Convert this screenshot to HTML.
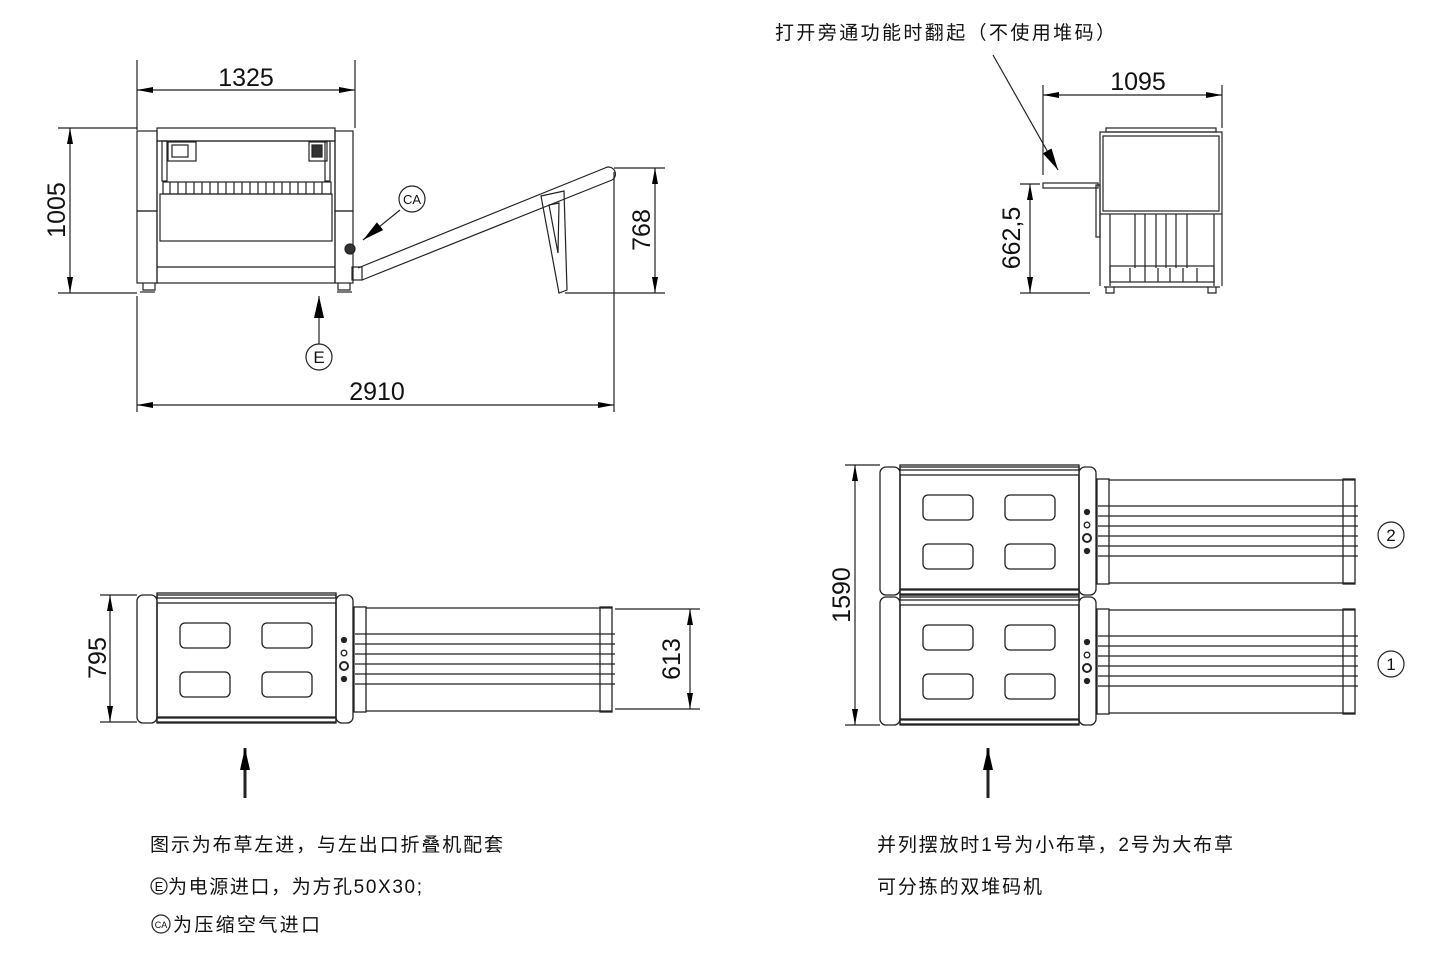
<!DOCTYPE html>
<html><head><meta charset="utf-8"><style>
html,body{margin:0;padding:0;background:#fff;}
svg{display:block;}
text{font-family:"Liberation Sans","Noto Sans CJK SC",sans-serif;fill:#111;}
</style></head><body>
<svg width="1455" height="960" viewBox="0 0 1455 960" xmlns="http://www.w3.org/2000/svg">
<defs>
<marker id="a" viewBox="0 0 16 6" refX="16" refY="3" markerWidth="16" markerHeight="6" markerUnits="userSpaceOnUse" orient="auto-start-reverse"><path d="M0,0L16,3L0,6z" fill="#000"/></marker>
<marker id="b" viewBox="0 0 22 10" refX="22" refY="5" markerWidth="22" markerHeight="10" markerUnits="userSpaceOnUse" orient="auto"><path d="M0,0L22,5L0,10z" fill="#000"/></marker>
<g id="T" fill="none" stroke="#222" stroke-width="1.3">
 <rect x="0" y="2" width="20" height="128" rx="6"/>
 <rect x="20" y="0" width="179" height="5"/>
 <rect x="20" y="125" width="179" height="5"/>
 <rect x="20" y="2" width="179" height="127"/>
 <rect x="20" y="10" width="179" height="114"/>
 <rect x="199" y="2" width="17" height="128" rx="6"/>
 <rect x="43" y="30" width="50" height="25" rx="5"/>
 <rect x="125" y="30" width="50" height="25" rx="5"/>
 <rect x="43" y="79" width="50" height="25" rx="5"/>
 <rect x="125" y="79" width="50" height="25" rx="5"/>
 <circle cx="207" cy="47" r="2.5" fill="#222"/>
 <circle cx="207" cy="60" r="2.8"/>
 <circle cx="207" cy="73" r="4" stroke-width="2"/>
 <circle cx="207" cy="86" r="2.5" fill="#222"/>
 <rect x="217" y="14" width="12" height="105"/>
 <line x1="229" y1="15" x2="475" y2="15"/>
 <line x1="229" y1="118" x2="475" y2="118"/>
 <line x1="218" y1="41" x2="478" y2="41"/><line x1="218" y1="51" x2="478" y2="51"/>
 <line x1="218" y1="61" x2="478" y2="61"/><line x1="218" y1="71" x2="478" y2="71"/>
 <line x1="218" y1="81" x2="478" y2="81"/><line x1="218" y1="91" x2="478" y2="91"/>
 <rect x="463" y="14" width="12" height="105"/>
</g>
</defs>

<g stroke="#222" stroke-width="1.2" fill="none">
<line x1="137" y1="60" x2="137" y2="130"/><line x1="355" y1="60" x2="355" y2="128"/>
<line x1="137" y1="90" x2="355" y2="90" marker-start="url(#a)" marker-end="url(#a)"/>
<line x1="58" y1="128" x2="137" y2="128"/><line x1="58" y1="293" x2="137" y2="293"/>
<line x1="70" y1="128" x2="70" y2="293" marker-start="url(#a)" marker-end="url(#a)"/>
<rect x="137" y="131" width="20" height="80"/>
<rect x="335" y="131" width="18" height="80"/>
<rect x="157" y="128" width="178" height="13"/>
<rect x="157" y="141" width="178" height="142"/>
<rect x="162" y="141" width="5" height="40"/><rect x="325" y="141" width="5" height="40"/>
<rect x="168" y="142" width="28" height="19"/><rect x="172" y="145" width="16" height="12"/>
<rect x="309" y="142" width="18" height="19"/><rect x="312" y="145" width="10" height="12" fill="#333"/>
<rect x="163" y="182" width="168" height="12"/>
<path d="M170,182v12M178,182v12M186,182v12M194,182v12M202,182v12M210,182v12M218,182v12M226,182v12M234,182v12M242,182v12M250,182v12M258,182v12M266,182v12M274,182v12M282,182v12M290,182v12M298,182v12M306,182v12M314,182v12M322,182v12"/>
<rect x="160" y="194" width="172" height="47"/>
<line x1="157" y1="267" x2="335" y2="267"/>
<rect x="137" y="211" width="20" height="72"/>
<rect x="335" y="211" width="18" height="72"/>
<path d="M143,283v7h12v-7M338,283v7h12v-7"/>
<line x1="140" y1="292" x2="155" y2="292"/><line x1="337" y1="292" x2="352" y2="292"/>
<circle cx="350" cy="249" r="5" fill="#333"/>
<rect x="352" y="267" width="10" height="13"/>
<line x1="358" y1="268" x2="605" y2="168"/>
<line x1="362" y1="280" x2="612" y2="180"/>
<path d="M605,168a6,6 0 0 1 7,12"/>
<path d="M541,196l23,-5l3,99l-8,3z"/>
<path d="M549,205l10,-2l-1,50z"/>
<line x1="565" y1="293" x2="665" y2="293"/><line x1="614" y1="168" x2="665" y2="168"/>
<line x1="655" y1="168" x2="655" y2="293" marker-start="url(#a)" marker-end="url(#a)"/>
<line x1="137" y1="296" x2="137" y2="412"/><line x1="614" y1="172" x2="614" y2="412"/>
<line x1="137" y1="405" x2="614" y2="405" marker-start="url(#a)" marker-end="url(#a)"/>
<circle cx="412" cy="199" r="13"/>
<line x1="400" y1="210" x2="363" y2="240" marker-end="url(#b)"/>
<circle cx="319" cy="357" r="13"/>
<line x1="319" y1="344" x2="319" y2="296" marker-end="url(#b)"/>

<line x1="993" y1="55" x2="1058" y2="170" marker-end="url(#b)"/>
<line x1="1043" y1="85" x2="1043" y2="175"/><line x1="1222" y1="85" x2="1222" y2="128"/>
<line x1="1043" y1="95" x2="1222" y2="95" marker-start="url(#a)" marker-end="url(#a)"/>
<rect x="1106" y="128" width="110" height="4"/>
<rect x="1100" y="132" width="122" height="82"/>
<rect x="1103" y="136" width="116" height="75"/>
<rect x="1043" y="183" width="55" height="5"/>
<rect x="1096" y="185" width="4" height="52"/>
<line x1="1110" y1="214" x2="1110" y2="286"/><line x1="1214" y1="214" x2="1214" y2="286"/>
<line x1="1100" y1="214" x2="1100" y2="286"/><line x1="1222" y1="214" x2="1222" y2="286"/>
<path d="M1135,214v54M1145,214v54M1156,214v54M1166,214v54M1176,214v54M1187,214v54"/>
<rect x="1110" y="266" width="104" height="16"/>
<path d="M1130,268v14M1145,268v14M1158,268v14M1170,268v14M1183,268v14M1197,268v14"/>
<line x1="1104" y1="287" x2="1220" y2="287"/>
<path d="M1106,287v6h8v-6M1208,287v6h8v-6"/>
<line x1="1020" y1="184" x2="1040" y2="184"/><line x1="1020" y1="293" x2="1090" y2="293"/>
<line x1="1030" y1="184" x2="1030" y2="293" marker-start="url(#a)" marker-end="url(#a)"/>

<line x1="100" y1="595" x2="137" y2="595"/><line x1="100" y1="722" x2="137" y2="722"/>
<line x1="110" y1="595" x2="110" y2="722" marker-start="url(#a)" marker-end="url(#a)"/>
<line x1="615" y1="609" x2="700" y2="609"/><line x1="615" y1="709" x2="700" y2="709"/>
<line x1="690" y1="609" x2="690" y2="709" marker-start="url(#a)" marker-end="url(#a)"/>
<line x1="245" y1="798" x2="245" y2="748" stroke-width="3" marker-end="url(#b)"/>

<line x1="845" y1="465" x2="880" y2="465"/><line x1="845" y1="725" x2="880" y2="725"/>
<line x1="855" y1="465" x2="855" y2="725" marker-start="url(#a)" marker-end="url(#a)"/>
<line x1="988" y1="798" x2="988" y2="748" stroke-width="3" marker-end="url(#b)"/>
<circle cx="1391" cy="535" r="13"/>
<circle cx="1391" cy="664" r="13"/>
<circle cx="159" cy="886" r="8"/>
<circle cx="161" cy="924" r="9"/>
</g>

<use href="#T" x="137" y="593"/>
<use href="#T" x="880" y="465"/>
<use href="#T" x="880" y="595"/>

<g font-size="25">
<text x="246" y="86" text-anchor="middle">1325</text>
<text x="377" y="400" text-anchor="middle">2910</text>
<text x="1138" y="90" text-anchor="middle">1095</text>
<text transform="translate(65,210) rotate(-90)" text-anchor="middle">1005</text>
<text transform="translate(650,230) rotate(-90)" text-anchor="middle">768</text>
<text transform="translate(1020,238) rotate(-90)" text-anchor="middle">662,5</text>
<text transform="translate(106,658) rotate(-90)" text-anchor="middle">795</text>
<text transform="translate(680,659) rotate(-90)" text-anchor="middle">613</text>
<text transform="translate(850,595) rotate(-90)" text-anchor="middle">1590</text>
</g>
<g font-size="13"><text x="412" y="204" text-anchor="middle">CA</text></g>
<g font-size="17"><text x="319" y="363" text-anchor="middle">E</text>
<text x="1391" y="541" text-anchor="middle">2</text><text x="1391" y="670" text-anchor="middle">1</text></g>
<text x="159" y="891" font-size="13" text-anchor="middle">E</text>
<text x="161" y="928" font-size="9" text-anchor="middle">CA</text>

<g font-size="19">
<text x="775" y="39" textLength="340" lengthAdjust="spacing">打开旁通功能时翻起（不使用堆码）</text>
<text x="150" y="851" textLength="353" lengthAdjust="spacing">图示为布草左进，与左出口折叠机配套</text>
<text x="168" y="893" textLength="254" lengthAdjust="spacing">为电源进口，为方孔50X30;</text>
<text x="173" y="931" textLength="147" lengthAdjust="spacing">为压缩空气进口</text>
<text x="877" y="851" textLength="356" lengthAdjust="spacing">并列摆放时1号为小布草，2号为大布草</text>
<text x="877" y="893" textLength="165" lengthAdjust="spacing">可分拣的双堆码机</text>
</g>
</svg>
</body></html>
